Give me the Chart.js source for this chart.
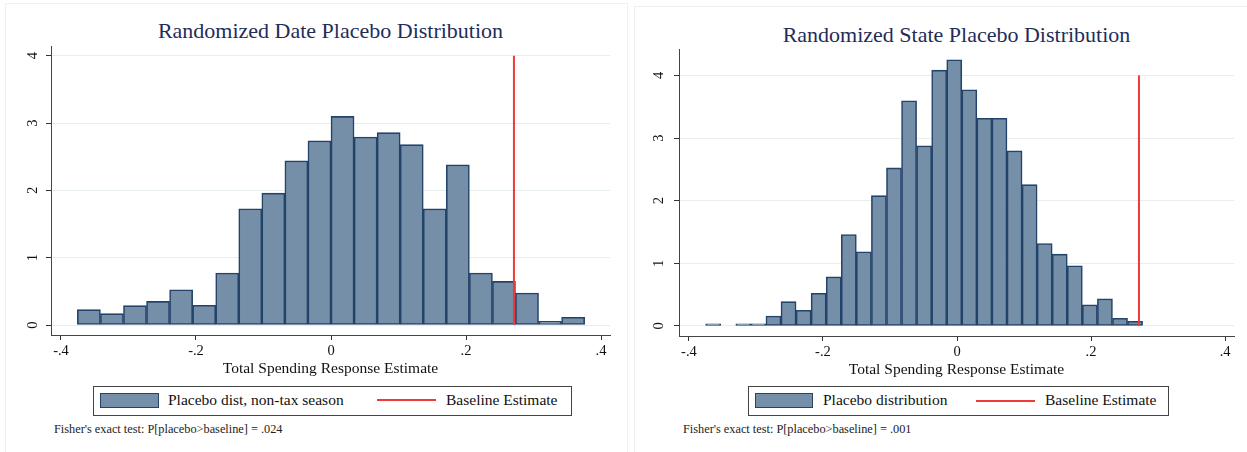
<!DOCTYPE html>
<html>
<head>
<meta charset="utf-8">
<script src="https://cdn.jsdelivr.net/npm/chart.js@4.4.0/dist/chart.umd.min.js"></script>
<style>
  html, body { margin: 0; padding: 0; background: #fff; }
  body { width: 1247px; height: 452px; position: relative; overflow: hidden; font-family: 'Liberation Serif', 'Times New Roman', serif; }
  .panel { position: absolute; border: 1px solid #eef1f3; }
  .title { position: absolute; text-align: center; color: #1f2d5a; font-size: 22px; line-height: 26px; white-space: nowrap; }
  .legend { position: absolute; border: 1.5px solid #444; box-sizing: border-box; }
  .swatch { position: absolute; background: #768fa8; border: 1.5px solid #23436a; box-sizing: border-box; }
  .redline { position: absolute; height: 2px; background: #f03a3a; }
  .ltext { position: absolute; font-size: 15.5px; line-height: 18px; color: #111; white-space: nowrap; }
  .note { position: absolute; font-size: 12.3px; line-height: 14px; color: #222; white-space: nowrap; }
  canvas { position: absolute; }
</style>
</head>
<body>
<div class="panel" style="left:5px; top:3px; width:621px; height:460px;"></div>
<div class="panel" style="left:634px; top:6px; width:620px; height:460px;"></div>

<div class="title" style="left:51px; top:18px; width:559px;">Randomized Date Placebo Distribution</div>
<div class="title" style="left:679px; top:22px; width:555px;">Randomized State Placebo Distribution</div>

<canvas id="dateChart" style="left:0px; top:0px;"></canvas>
<canvas id="stateChart" style="left:625px; top:0px;"></canvas>

<div class="legend" style="left:93px; top:386px; width:479px; height:30px;"></div>
<div class="swatch" style="left:100px; top:393px; width:59px; height:15px;"></div>
<div class="ltext" style="left:168px; top:391px;">Placebo dist, non-tax season</div>
<div class="redline" style="left:377px; top:399px; width:59px;"></div>
<div class="ltext" style="left:446px; top:391px;">Baseline Estimate</div>
<div class="note" style="left:54px; top:422px;">Fisher's exact test: P[placebo&gt;baseline] = .024</div>

<div class="legend" style="left:748px; top:386px; width:421px; height:30px;"></div>
<div class="swatch" style="left:755px; top:393px; width:58px; height:15px;"></div>
<div class="ltext" style="left:823px; top:391px;">Placebo distribution</div>
<div class="redline" style="left:976px; top:400px; width:59px;"></div>
<div class="ltext" style="left:1045px; top:391px;">Baseline Estimate</div>
<div class="note" style="left:683px; top:422px;">Fisher's exact test: P[placebo&gt;baseline] = .001</div>

<script>
// bin centres and densities
const dateBins = [-0.35868, -0.32452, -0.29036, -0.2562, -0.22204, -0.18788, -0.15372, -0.11956, -0.0854, -0.05124, -0.01708,
                  0.01708, 0.05124, 0.0854, 0.11956, 0.15372, 0.18788, 0.22204, 0.2562, 0.29036, 0.32452, 0.35868];
const dateDensity = [0.228, 0.168, 0.287, 0.351, 0.524, 0.292, 0.772, 1.726, 1.958, 2.438, 2.735,
                     3.099, 2.793, 2.857, 2.679, 1.725, 2.378, 0.771, 0.648, 0.475, 0.054, 0.114];

const stateBins = [-0.36376, -0.34128, -0.3188, -0.29632, -0.27384, -0.25136, -0.22888, -0.2064, -0.18392, -0.16144,
                   -0.13896, -0.11648, -0.094, -0.07152, -0.04904, -0.02656, -0.00408, 0.0184, 0.04088, 0.06336,
                   0.08584, 0.10832, 0.1308, 0.15328, 0.17576, 0.19824, 0.22072, 0.2432, 0.26568];
const stateDensity = [0.035, null, 0.035, 0.035, 0.16, 0.389, 0.251, 0.523, 0.784, 1.461,
                      1.184, 2.08, 2.523, 3.595, 2.875, 4.085, 4.25, 3.771, 3.317, 3.317,
                      2.795, 2.256, 1.317, 1.147, 0.96, 0.336, 0.432, 0.123, 0.075];

const baselineDate = 0.271;
const baselineState = 0.2715;
const baselineTop = 4;

const xTicks = [-0.4, -0.2, 0, 0.2, 0.4];
const xTickLabels = ['-.4', '-.2', '0', '.2', '.4'];
const yTicks = [0, 1, 2, 3, 4];
const yTickLabels = ['0', '1', '2', '3', '4'];

const xTitle = 'Total Spending Response Estimate';

function histogram(id, bins, density, baseline, opt) {
    const canvas = document.getElementById(id);
    canvas.width = opt.width;
    canvas.height = opt.height;
    canvas.style.width = opt.width + 'px';
    canvas.style.height = opt.height + 'px';
    const ctx = canvas.getContext('2d');

    const bars = bins.map(function(b, i) { return {x: b, y: density[i]}; });

    return new Chart(ctx, {
        type: 'bar',
        data: {
            datasets: [
                {
                    type: 'line',
                    label: 'Baseline Estimate',
                    data: [{x: baseline, y: 0}, {x: baseline, y: baselineTop}],
                    borderColor: '#f03a3a',
                    borderWidth: 2,
                    pointRadius: 0,
                    order: 1
                },
                {
                    type: 'bar',
                    label: 'Placebo',
                    data: bars,
                    backgroundColor: '#768fa8',
                    borderColor: '#23436a',
                    borderWidth: 1.6,
                    borderSkipped: false,
                    barPercentage: 1,
                    categoryPercentage: 1,
                    order: 2
                }
            ]
        },
        options: {
            responsive: false,
            animation: false,
            layout: {
                padding: {left: 0, right: opt.padRight, top: opt.padTop, bottom: 0}
            },
            plugins: {
                legend: {display: false},
                title: {display: false},
                tooltip: {enabled: false}
            },
            scales: {
                x: {
                    type: 'linear',
                    offset: false,
                    min: -0.4148,
                    max: 0.4133,
                    afterBuildTicks: function(scale) {
                        scale.ticks = xTicks.map(function(v) { return {value: v}; });
                    },
                    afterFit: function(scale) { scale.height = opt.xAxisHeight; },
                    grid: {
                        offset: false,
                        drawOnChartArea: false,
                        tickLength: 5,
                        tickColor: '#333'
                    },
                    border: {color: '#444', width: 1},
                    ticks: {
                        padding: 2,
                        color: '#111',
                        font: {family: 'Liberation Serif', size: 14.5},
                        callback: function(value, index) { return xTickLabels[index]; }
                    },
                    title: {
                        display: true,
                        text: xTitle,
                        color: '#111',
                        font: {family: 'Liberation Serif', size: 15.5},
                        padding: {top: 0, bottom: opt.titlePad}
                    }
                },
                y: {
                    type: 'linear',
                    min: opt.yMin,
                    max: opt.yMax,
                    afterBuildTicks: function(scale) {
                        scale.ticks = yTicks.map(function(v) { return {value: v}; });
                    },
                    afterFit: function(scale) { scale.width = opt.yAxisWidth; },
                    grid: {
                        color: '#e6eeef',
                        tickLength: 5,
                        tickColor: '#333'
                    },
                    border: {color: '#444', width: 1},
                    ticks: {
                        minRotation: 90,
                        maxRotation: 90,
                        crossAlign: 'center',
                        padding: opt.yPad,
                        color: '#111',
                        font: {family: 'Liberation Serif', size: 14.5},
                        callback: function(value, index) { return yTickLabels[index]; }
                    }
                }
            }
        }
    });
}

histogram('dateChart', dateBins, dateDensity, baselineDate, {
    width: 620, height: 385, padRight: 10, padTop: 46,
    xAxisHeight: 50, yAxisWidth: 51, yMin: -0.1485, yMax: 4.144, yPad: 9, titlePad: 7
});

histogram('stateChart', stateBins, stateDensity, baselineState, {
    width: 622, height: 385, padRight: 13, padTop: 49,
    xAxisHeight: 49, yAxisWidth: 54, yMin: -0.16, yMax: 4.422, yPad: 11, titlePad: 6
});
</script>
</body>
</html>
